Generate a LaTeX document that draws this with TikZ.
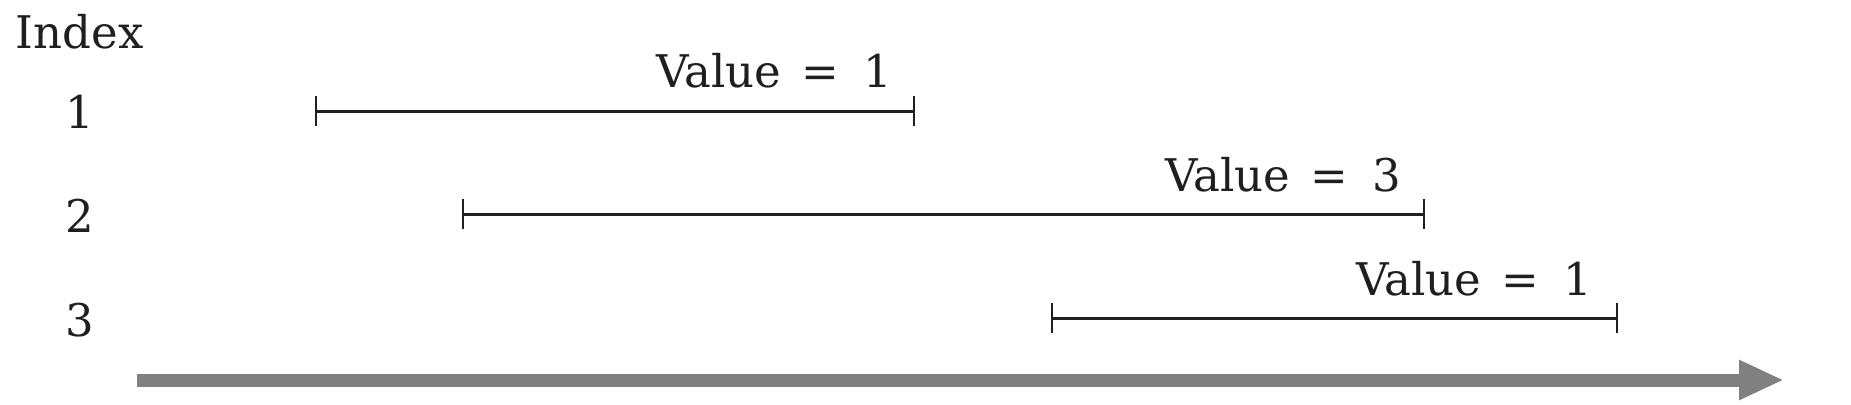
\documentclass[tikz,border=0pt]{standalone}
\usepackage{fontspec}
\setmainfont{DejaVu Serif}
\usetikzlibrary{arrows.meta}
\begin{document}
\begin{tikzpicture}[x=0.5pt,y=-0.5pt,
  lbl/.style={inner sep=0pt, outer sep=0pt, text=black!88, font=\fontsize{22.5}{27}\selectfont},
  interval/.style={draw=black!88, line width=1.5pt, {Bar[width=15pt,line width=1.2pt]}-{Bar[width=15pt,line width=1.2pt]}},
  timeline/.style={draw=gray, line width=6.5pt, -{Triangle[length=22.5pt,width=18.5pt]}}]
\useasboundingbox (0,0) rectangle (1851,404);
% labels
\node[lbl, anchor=base west] (idx) at (16,48) {Index};
\node[lbl, anchor=base] (i1) at (80,128) {1};
\node[lbl, anchor=base] (i2) at (80,232) {2};
\node[lbl, anchor=base] (i3) at (80,336) {3};
% intervals
\coordinate (b1s) at (315,111);
\coordinate (b1e) at (915,111);
\coordinate (b2s) at (462,214);
\coordinate (b2e) at (1425,214);
\coordinate (b3s) at (1051,318);
\coordinate (b3e) at (1618,318);
\draw[interval] (b1s) -- (b1e);
\draw[interval] (b2s) -- (b2e);
\draw[interval] (b3s) -- (b3e);
\node[lbl, anchor=base east] (v1) at (892,87) {Value\hspace{2.75pt} =\hspace{5pt} 1};
\node[lbl, anchor=base east] (v2) at (1401,191) {Value\hspace{2.75pt} =\hspace{5pt} 3};
\node[lbl, anchor=base east] (v3) at (1592,295) {Value\hspace{2.75pt} =\hspace{5pt} 1};
% time axis
\coordinate (ts) at (137,380);
\coordinate (te) at (1784,380);
\draw[timeline] (ts) -- (te);
\end{tikzpicture}
\end{document}
